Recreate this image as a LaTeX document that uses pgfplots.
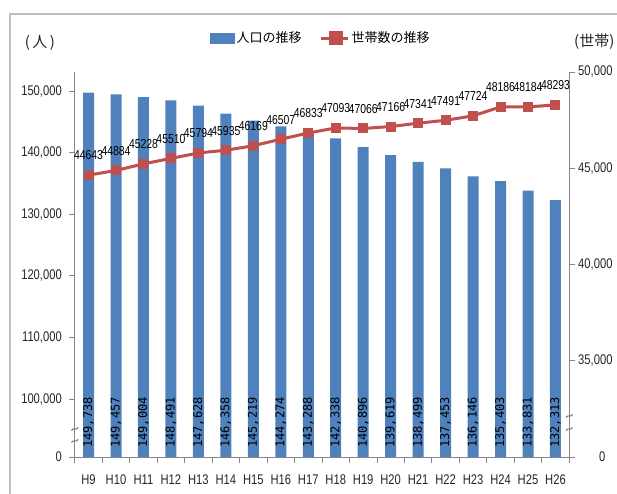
\documentclass[border=0pt]{standalone}
\usepackage{pgfplots}
\pgfplotsset{compat=1.18}
\usepackage{pgfplotstable}
\usepackage{fontspec}
\setmainfont{Liberation Sans}
\newfontfamily\nfont{Liberation Sans}[FakeStretch=0.8]
\newfontfamily\jfont{Noto Sans CJK JP}
\newfontfamily\mfont{DejaVu Sans Mono}
\newcommand\tickf{\nfont\fontsize{14pt}{16pt}\selectfont}
\newcommand\lblf{\nfont\fontsize{13pt}{15pt}\selectfont}
\newcommand\barf{\mfont\fontsize{12pt}{14pt}\selectfont}
\newcommand\jf{\jfont\fontsize{13pt}{15pt}\selectfont}
\definecolor{barblue}{HTML}{4F81BD}
\definecolor{linered}{HTML}{C0504D}
\definecolor{axgray}{HTML}{868686}
\definecolor{framegray}{HTML}{BFBFBF}
\definecolor{tickc}{HTML}{262626}

\pgfplotstableread{
x pop label
0 149738 149,738
1 149457 149,457
2 149004 149,004
3 148491 148,491
4 147628 147,628
5 146358 146,358
6 145219 145,219
7 144274 144,274
8 143288 143,288
9 142338 142,338
10 140896 140,896
11 139619 139,619
12 138499 138,499
13 137453 137,453
14 136146 136,146
15 135403 135,403
16 133831 133,831
17 132313 132,313
}\popdata

\pgfplotstableread{
x hh
0 44643
1 44884
2 45228
3 45510
4 45794
5 45935
6 46169
7 46507
8 46833
9 47093
10 47066
11 47166
12 47341
13 47491
14 47724
15 48186
16 48184
17 48293
}\hhdata

\begin{document}
\begin{tikzpicture}[x=1pt,y=1pt]
\useasboundingbox (0,0) rectangle (617,494);
\draw[framegray, line width=1.2pt] (10,-20) rectangle (660,480);

\begin{axis}[
  at={(74.8pt,37pt)}, anchor=south west,
  width=494.4pt, height=385pt, scale only axis,
  xmin=-0.5, xmax=17.5, ymin=90600, ymax=153100,
  axis x line*=bottom, axis y line*=left,
  axis line style={draw=axgray, line width=0.8pt, -},
  xtick={-0.5,0.5,...,17.5},
  x tick label as interval,
  xticklabels={H9,H10,H11,H12,H13,H14,H15,H16,H17,H18,H19,H20,H21,H22,H23,H24,H25,H26},
  ytick={90600,100000,110000,120000,130000,140000,150000},
  yticklabels={0,{100,000},{110,000},{120,000},{130,000},{140,000},{150,000}},
  scaled y ticks=false,
  tick align=outside, major tick length=5.5pt,
  tick style={draw=axgray, line width=0.8pt},
  ticklabel style={font=\tickf, text=tickc},
  xticklabel style={yshift=-9pt},
  yticklabel style={xshift=-4pt},
  /pgf/number format/assume math mode=true,
]
\addplot[ybar, bar width=11pt, fill=barblue, draw=none] table[x=x, y=pop] {\popdata};
\addplot[only marks, mark=none, nodes near coords, point meta=explicit symbolic,
  every node near coord/.style={rotate=90, anchor=west, inner sep=0pt, font=\barf, text=black}]
  table[x=x, y expr=92060, meta=label] {\popdata};
\end{axis}

\begin{axis}[
  at={(74.8pt,37pt)}, anchor=south west,
  width=494.4pt, height=385pt, scale only axis,
  xmin=-0.5, xmax=17.5, ymin=30000, ymax=50000,
  axis x line=none, axis y line*=right,
  axis line style={draw=axgray, line width=0.8pt, -},
  ytick={30000,35000,40000,45000,50000},
  yticklabels={\hspace*{21pt}0,{35,000},{40,000},{45,000},{50,000}},
  scaled y ticks=false,
  tick align=outside, major tick length=5.5pt,
  tick style={draw=axgray, line width=0.8pt},
  ticklabel style={font=\tickf, text=tickc},
  clip=false,
  legend columns=2,
  legend style={at={(0.498,1.088)}, anchor=center, draw=none, fill=none,
    font=\jf, /tikz/every even column/.append style={column sep=16pt}},
]
\addlegendimage{legend image code/.code={\fill[barblue] (0pt,-5pt) rectangle (24pt,5pt);}}
\addlegendentry{人口の推移}
\addplot[linered, line width=3pt, mark=square*, mark size=4.5pt,
  mark options={fill=linered, draw=linered, line width=0pt},
  nodes near coords, point meta=explicit symbolic,
  every node near coord/.style={anchor=south, inner sep=0pt, yshift=15pt, font=\lblf, text=black},
  legend image code/.code={\draw[linered, line width=3pt] (0pt,0pt) -- (27pt,0pt); \fill[linered] (9pt,-5.5pt) rectangle (20pt,5.5pt);}]
  table[x=x, y=hh, meta=hh] {\hhdata};
\addlegendentry{世帯数の推移}
\end{axis}

% axis break marks
\foreach \yy in {54,66}{
  \draw[black!70, line width=0.8pt] (71.5,\yy-2.5) .. controls (73.5,\yy+1) and (76,\yy-3) .. (78,\yy+0.5);
}
\foreach \yy in {66,79}{
  \draw[black!70, line width=0.8pt] (566,\yy-2.5) .. controls (568,\yy+1) and (570.5,\yy-3) .. (572.5,\yy+0.5);
}

\node[font=\jfont\fontsize{15pt}{17pt}\selectfont, text=tickc] at (40,451) {(\,人\,)};
\node[font=\jfont\fontsize{15pt}{17pt}\selectfont, text=tickc, anchor=west, inner sep=0pt] at (574,452) {(世帯)};
\end{tikzpicture}
\end{document}
